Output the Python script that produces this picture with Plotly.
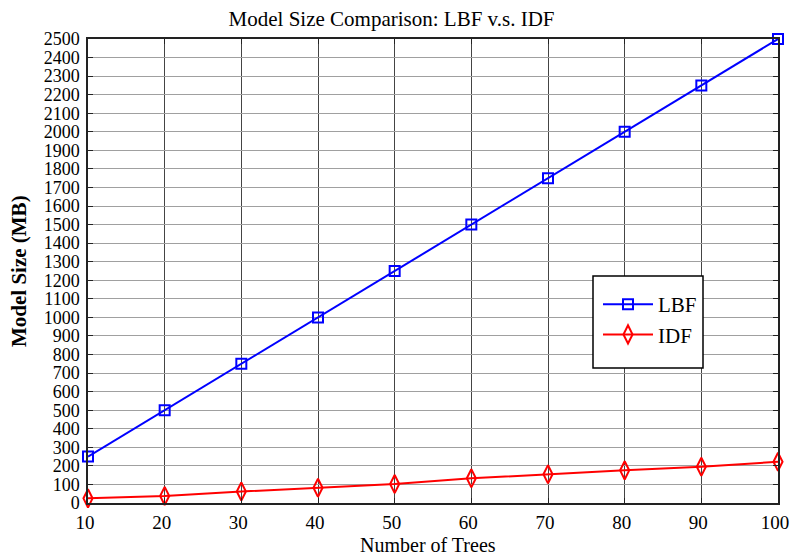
import plotly.graph_objects as go

trees = [10, 20, 30, 40, 50, 60, 70, 80, 90, 100]
lbf = [250, 500, 750, 1000, 1250, 1500, 1750, 2000, 2250, 2500]
idf = [25, 38, 62, 82, 102, 133, 155, 176, 195, 222]
yticks = list(range(0, 2501, 100))

FONT = "Liberation Serif, Times New Roman, serif"
L, T, W, H = 88, 39, 690, 464

fig = go.Figure()
fig.add_trace(go.Scatter(
    x=trees, y=lbf, name="LBF", mode="lines+markers", legendgroup="a",
    line=dict(color="#0000ff", width=2),
    marker=dict(symbol="square-open", size=10, color="#0000ff", line=dict(width=2)),
    cliponaxis=False,
))
fig.add_trace(go.Scatter(
    x=trees, y=idf, name="IDF", mode="lines+markers", legendgroup="b",
    line=dict(color="#ff0000", width=2),
    marker=dict(symbol="diamond-tall-open", size=13, color="#ff0000", line=dict(width=2)),
    cliponaxis=False,
))

axis_common = dict(
    showgrid=True, gridwidth=1,
    showline=True, linecolor="#222222", linewidth=1.5, mirror="ticks",
    ticks="inside", ticklen=5, tickcolor="#222222", zeroline=False,
    automargin=False, ticklabeloverflow="allow",
)

def px_x(p):
    return (p - L) / W

def px_y(p):
    return (T + H - p) / H

fig.update_layout(
    width=790, height=555,
    margin=dict(l=L, r=790 - L - W, t=T, b=555 - T - H),
    paper_bgcolor="white", plot_bgcolor="white",
    font=dict(family=FONT, color="#000000"),
    title=dict(text="Model Size Comparison: LBF v.s. IDF", x=px_x(430), xanchor="center",
               y=1 - 19 / 555, yanchor="middle", font=dict(family=FONT, size=21, color="#000000")),
    xaxis=dict(range=[10, 100], tickvals=trees, gridcolor="#444444",
               ticklabelstandoff=1, ticklabelshift=-3,
               tickfont=dict(family=FONT, size=19, color="#000000"),
               **axis_common),
    yaxis=dict(range=[0, 2500], tickvals=yticks, gridcolor="#a0a0a0",
               ticklabelstandoff=3, tickfont=dict(family=FONT, size=18, color="#000000"),
               **axis_common),
    legend=dict(x=px_x(598), y=px_y(284), xanchor="left", yanchor="top",
                bgcolor="rgba(0,0,0,0)", borderwidth=0,
                font=dict(family=FONT, size=21), itemwidth=50, tracegroupgap=30,
                traceorder="normal"),
    showlegend=True,
    shapes=[
        dict(type="rect", xref="paper", yref="paper",
             x0=px_x(593), x1=px_x(703), y0=px_y(368), y1=px_y(276),
             fillcolor="white", line=dict(color="#000000", width=1.5), layer="above"),
    ],
    annotations=[
        dict(text="Number of Trees", xref="paper", yref="paper", x=px_x(428), y=0,
             xanchor="center", yanchor="top", yshift=-29, showarrow=False,
             font=dict(family=FONT, size=20, color="#000000")),
        dict(text="<b>Model Size (MB)</b>", xref="paper", yref="paper", x=0, y=0.5,
             xanchor="right", yanchor="middle", xshift=-55, textangle=-90, showarrow=False,
             font=dict(family=FONT, size=21, color="#000000")),
    ],
)

fig.write_html("out.html", config={"displayModeBar": False},
               post_script="document.body.style.margin='0';document.body.style.padding='0';")
